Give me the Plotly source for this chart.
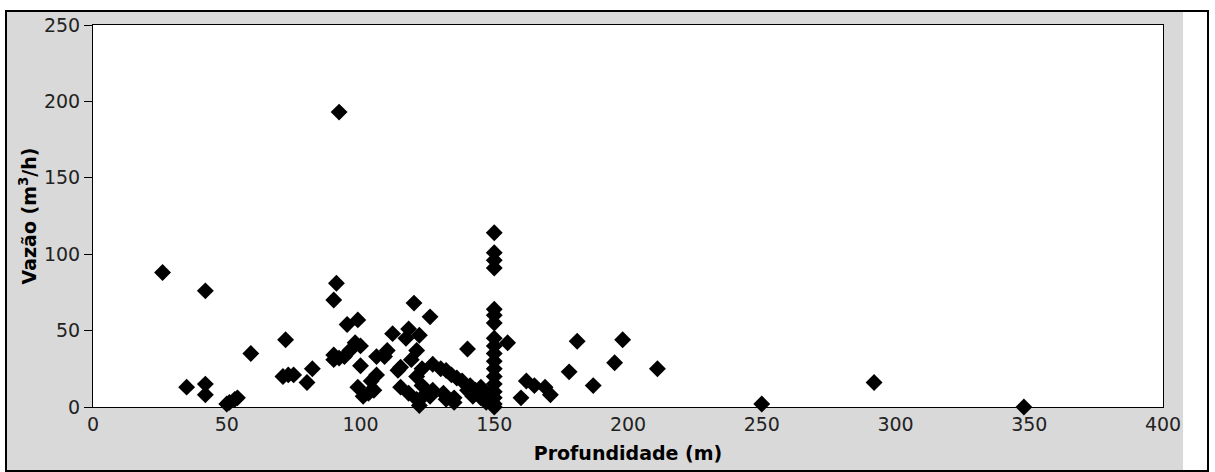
import plotly.graph_objects as go

# Data
profundidade = [26, 35, 42, 42, 42, 50, 51, 53, 54, 59, 72, 71, 73, 75, 80, 82,
                90, 91, 92, 90, 90, 92, 94, 95, 96, 98, 99, 100, 99, 100, 101, 103,
                104, 105, 106, 106, 109, 110, 112, 114, 115, 115, 117, 118, 118, 119,
                120, 121, 121, 121, 122, 122, 123, 123, 124, 126, 126, 127, 127, 130,
                131, 132, 132, 134, 135, 135, 136, 138, 140, 140, 141, 142, 143, 145,
                145, 146, 148, 147,
                150, 150, 150, 150, 150, 150, 150, 150, 150, 150, 150, 150, 150, 150,
                150, 150, 150, 150,
                155, 160, 162, 165, 169, 171, 178, 181, 187, 195, 198, 211, 250, 292, 348]
vazao = [88, 13, 76, 15, 8, 2, 3, 5, 6, 35, 44, 20, 21, 21, 16, 25,
         70, 81, 193, 34, 31, 32, 33, 54, 37, 42, 57, 27, 13, 40, 7, 9,
         17, 11, 33, 21, 33, 37, 48, 24, 13, 26, 45, 9, 51, 31,
         68, 37, 20, 5, 47, 1, 25, 14, 8, 59, 7, 11, 28, 25,
         9, 5, 24, 21, 6, 3, 19, 17, 38, 11, 14, 7, 11, 13,
         6, 10, 8, 3,
         114, 101, 96, 91, 64, 60, 55, 45, 40, 35, 30, 25, 20, 15,
         10, 6, 2, 0,
         42, 6, 17, 14, 13, 8, 23, 43, 14, 29, 44, 25, 2, 16, 0]

x_ticks = [0, 50, 100, 150, 200, 250, 300, 350, 400]
y_ticks = [0, 50, 100, 150, 200, 250]

W, H = 1215, 472
L, R, T, B = 93, 1163, 25, 407  # plot area in pixels


def px(xp):
    return (xp - L) / (R - L)


def py(yp):
    return (B - yp) / (B - T)


fig = go.Figure()
fig.add_trace(go.Scatter(
    x=profundidade, y=vazao, mode="markers",
    marker=dict(symbol="diamond", size=13, color="black"),
    cliponaxis=False, showlegend=False,
))

fig.update_layout(
    width=W, height=H,
    margin=dict(l=L, r=W - R, t=T, b=H - B, pad=0),
    paper_bgcolor="white",
    plot_bgcolor="white",
    font=dict(family="DejaVu Sans", size=19, color="#222"),
    shapes=[
        dict(type="rect", xref="paper", yref="paper",
             x0=px(6), x1=px(1183), y0=py(471), y1=py(11),
             fillcolor="#d9d9d9", line=dict(width=0), layer="below"),
        dict(type="rect", xref="paper", yref="paper",
             x0=0, x1=1, y0=0, y1=1,
             fillcolor="white", line=dict(width=0), layer="below"),
        dict(type="rect", xref="paper", yref="paper",
             x0=px(6), x1=px(1208), y0=py(471), y1=py(11),
             fillcolor="rgba(0,0,0,0)", line=dict(color="black", width=2),
             layer="above"),
    ],
    xaxis=dict(
        range=[0, 400], tickvals=x_ticks, ticks="", showgrid=False,
        zeroline=False, showline=True, linecolor="black", linewidth=1,
        mirror=True, tickfont=dict(size=19, color="#222"),
        title=dict(text="<b>Profundidade (m)</b>", standoff=12,
                   font=dict(size=19, color="black")),
    ),
    yaxis=dict(
        range=[0, 250], tickvals=y_ticks, ticks="outside", ticklen=8,
        tickcolor="black", showgrid=False, zeroline=False, showline=True,
        linecolor="black", linewidth=1, mirror=True,
        tickfont=dict(size=19, color="#222"),
        title=dict(text="<b>Vazão (m<sup>3</sup>/h)</b>", standoff=2,
                   font=dict(size=19, color="black")),
    ),
)

fig.write_html("out.html", config={"displayModeBar": False},
               post_script="document.body.style.margin='0';")
